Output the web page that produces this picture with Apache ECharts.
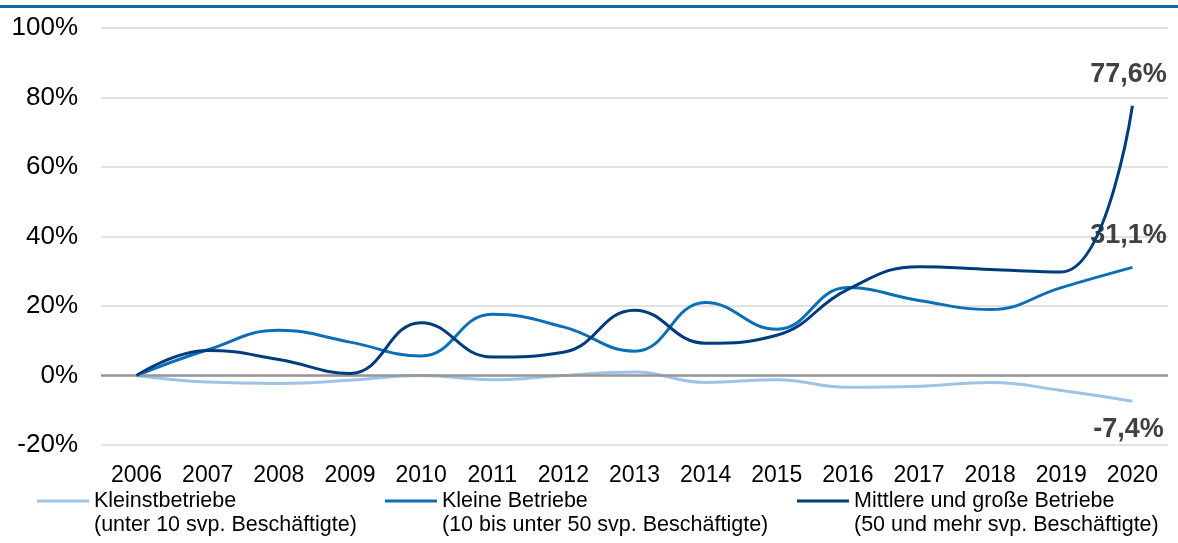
<!DOCTYPE html>
<html>
<head>
<meta charset="utf-8">
<script src="https://cdn.jsdelivr.net/npm/echarts@6/dist/echarts.min.js"></script>
<style>
  html, body { margin: 0; padding: 0; background: #fff; }
  #chart { width: 1178px; height: 543px; }
</style>
</head>
<body>
<div id="chart"></div>
<script>
// Jahre (Kategorien der x-Achse)
const years = ['2006', '2007', '2008', '2009', '2010', '2011', '2012', '2013', '2014', '2015', '2016', '2017', '2018', '2019', '2020'];

// Veränderung gegenüber 2006 in Prozent
const kleinst = [0, -1.9, -2.3, -1.4, 0, -1.2, 0, 1.0, -2.0, -1.2, -3.4, -3.1, -2.0, -4.3, -7.4];
const kleine = [0, 7.4, 13.0, 9.6, 5.6, 17.6, 14.0, 7.0, 21.0, 13.3, 25.3, 21.6, 19.0, 25.3, 31.1];
const mittlere = [0, 7.2, 4.6, 0.6, 15.2, 5.3, 6.7, 18.8, 9.3, 11.6, 24.8, 31.3, 30.5, 29.8, 77.6];

// Achsenbeschriftungen
const yTicks = [-20, 0, 20, 40, 60, 80, 100];

const seriesNames = ['Kleinstbetriebe', 'Kleine Betriebe', 'Mittlere und große Betriebe'];
const seriesSub = ['(unter 10 svp. Beschäftigte)', '(10 bis unter 50 svp. Beschäftigte)', '(50 und mehr svp. Beschäftigte)'];
const colors = ['#9DC3E6', '#0B6FB8', '#003C7D'];

const FONT = '"Liberation Sans", Arial, sans-serif';

function pct(v) {
  return v.toFixed(1).replace('.', ',') + '%';
}

// Nur der letzte Wert jeder Reihe bekommt eine Beschriftung
function withEndLabel(values, position) {
  return values.map((v, i) => {
    if (i !== values.length - 1) return v;
    return {
      value: v,
      label: {
        show: true,
        position: position,
        distance: position === 'top' ? 18 : 15,
        offset: [-4, 0],
        formatter: p => pct(p.value),
        fontFamily: FONT,
        fontWeight: 'bold',
        fontSize: 27,
        color: '#404040'
      }
    };
  });
}

function lineSeries(idx, values, labelPos) {
  return {
    name: seriesNames[idx],
    type: 'line',
    data: withEndLabel(values, labelPos),
    smooth: 0.45,
    symbol: 'circle',
    symbolSize: 0,
    showSymbol: true,
    label: { show: false },
    lineStyle: { color: colors[idx], width: 3 },
    itemStyle: { color: colors[idx] },
    z: 3 + idx
  };
}

const chart = echarts.init(document.getElementById('chart'), null, { renderer: 'canvas' });

const legendLefts = [37, 385, 797];

const s0 = lineSeries(0, kleinst, 'bottom');
// Nulllinie
s0.markLine = {
  silent: true,
  symbol: 'none',
  label: { show: false },
  lineStyle: { color: '#969696', width: 2.5, type: 'solid' },
  data: [{ yAxis: 0 }]
};

const option = {
  animation: false,
  backgroundColor: '#ffffff',
  textStyle: { fontFamily: FONT },
  grid: { left: 101, right: 10, top: 28, bottom: 98, containLabel: false },
  legend: seriesNames.map((name, i) => ({
    data: [name],
    left: legendLefts[i],
    top: 465,
    padding: 0,
    icon: 'rect',
    itemWidth: 52,
    itemHeight: 3,
    selectedMode: false,
    // leere erste Zeile, damit die Linie auf Höhe der ersten Textzeile sitzt
    formatter: n => '\n' + n + '\n' + seriesSub[i],
    textStyle: {
      fontFamily: FONT,
      fontSize: 21.5,
      lineHeight: 24,
      color: '#000'
    }
  })),
  xAxis: {
    type: 'category',
    data: years,
    boundaryGap: true,
    axisLine: { show: false },
    axisTick: { show: false },
    axisLabel: {
      fontFamily: FONT,
      fontSize: 23,
      color: '#000',
      margin: 19,
      interval: 0
    },
    splitLine: { show: false }
  },
  yAxis: {
    type: 'value',
    min: yTicks[0],
    max: yTicks[yTicks.length - 1],
    interval: 20,
    axisLine: { show: false },
    axisTick: { show: false },
    axisLabel: {
      fontFamily: FONT,
      fontSize: 26,
      color: '#000',
      margin: 23,
      formatter: v => v + '%'
    },
    splitLine: { lineStyle: { color: '#d9d9d9', width: 1.5 } }
  },
  series: [
    s0,
    lineSeries(1, kleine, 'top'),
    lineSeries(2, mittlere, 'top')
  ],
  graphic: [
    {
      type: 'rect',
      left: 0,
      top: 5,
      shape: { width: 1178, height: 3 },
      style: { fill: '#1167AA' },
      silent: true
    }
  ]
};

chart.setOption(option);
</script>
</body>
</html>
